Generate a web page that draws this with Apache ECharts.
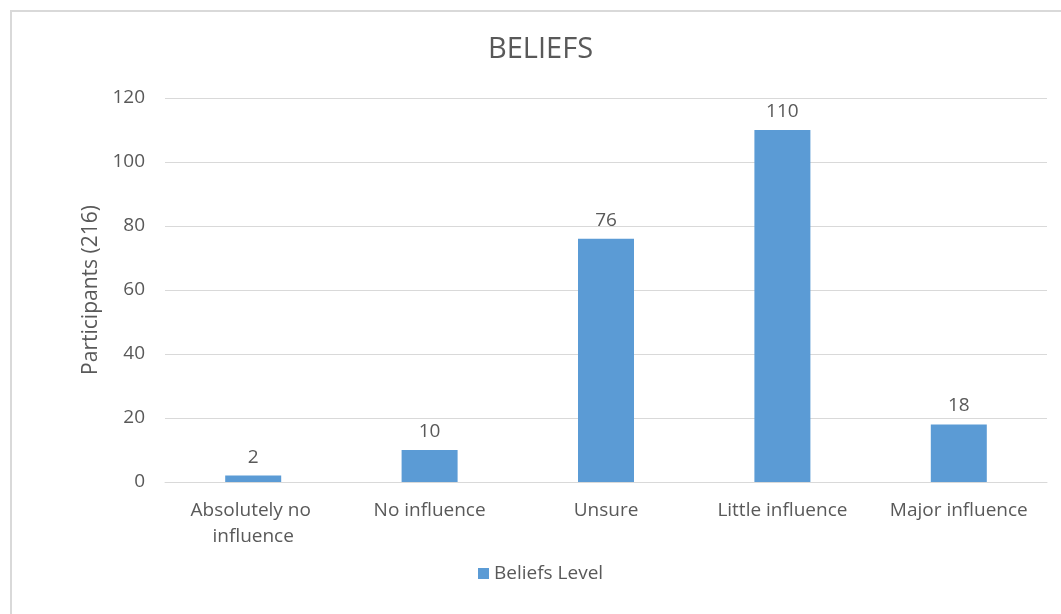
<!DOCTYPE html>
<html>
<head>
<meta charset="utf-8">
<script src="https://cdn.jsdelivr.net/npm/echarts@6/dist/echarts.min.js"></script>
<style>
  html, body { margin: 0; padding: 0; background: #fff; }
  #frame { position: absolute; left: 10px; top: 10px; width: 1060px; height: 610px;
           border-left: 2px solid #d9d9d9; border-top: 2px solid #d9d9d9; }
  #chart { width: 1061px; height: 614px; }
</style>
</head>
<body>
<div id="frame"></div>
<div id="chart"></div>
<script>
var categories = ["Absolutely no influence", "No influence", "Unsure", "Little influence", "Major influence"];
var beliefsLevel = [2, 10, 76, 110, 18];
var yTicks = { min: 0, max: 120, interval: 20 };

var chart = echarts.init(document.getElementById("chart"));
var textColor = "#595959";
var fontFamily = "'Open Sans', 'Noto Sans', sans-serif";

var option = {
  backgroundColor: "transparent",
  title: {
    text: "BELIEFS",
    left: 483,
    top: 30,
    textStyle: { color: textColor, fontSize: 29, fontWeight: "normal", fontFamily: fontFamily }
  },
  legend: {
    bottom: 26,
    left: 473,
    itemWidth: 11,
    itemHeight: 11,
    itemGap: 6,
    icon: "rect",
    data: ["Beliefs Level"],
    textStyle: { color: textColor, fontSize: 19, fontFamily: fontFamily }
  },
  grid: { left: 165, right: 14, top: 98, bottom: 132, containLabel: false },
  xAxis: {
    type: "category",
    data: categories,
    axisTick: { show: false },
    axisLine: { lineStyle: { color: "#d9d9d9", width: 1 } },
    axisLabel: {
      color: textColor, fontSize: 19, fontFamily: fontFamily, margin: 16,
      width: 165, overflow: "break", lineHeight: 26, interval: 0
    }
  },
  yAxis: {
    type: "value",
    min: yTicks.min,
    max: yTicks.max,
    interval: yTicks.interval,
    name: "Participants (216)",
    nameLocation: "middle",
    nameGap: 63,
    nameTextStyle: { color: textColor, fontSize: 21, fontFamily: fontFamily },
    axisLine: { show: false },
    axisTick: { show: false },
    axisLabel: { color: textColor, fontSize: 19, fontFamily: fontFamily, margin: 20 },
    splitLine: { lineStyle: { color: "#d9d9d9", width: 1 } }
  },
  series: [{
    name: "Beliefs Level",
    type: "bar",
    data: beliefsLevel,
    barWidth: 56,
    itemStyle: { color: "#5b9bd5" },
    label: {
      show: true, position: "top", distance: 9,
      color: textColor, fontSize: 19, fontFamily: fontFamily
    }
  }]
};
chart.setOption(option);
</script>
</body>
</html>
